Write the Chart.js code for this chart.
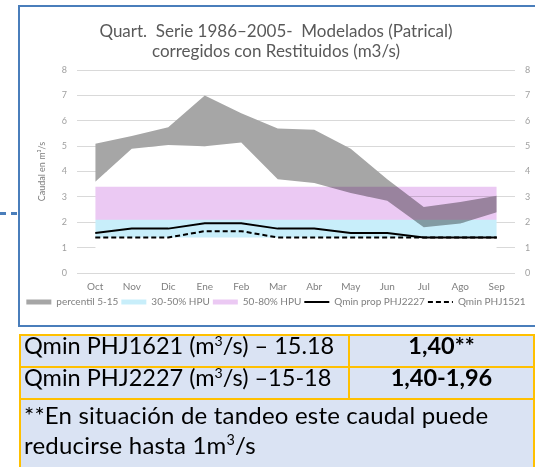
<!DOCTYPE html>
<html>
<head>
<meta charset="utf-8">
<script src="https://cdn.jsdelivr.net/npm/chart.js@4"></script>
<style>
  body { margin: 0; width: 535px; height: 467px; overflow: hidden; background: #fff; position: relative; font-family: Lato, "Open Sans", sans-serif; }
  #chart { position: absolute; left: 0; top: 0; display: block; }
  #frame { position: absolute; left: 18px; top: 5px; width: 560px; height: 322px; border: 2px solid #4a7ebb; box-sizing: border-box; pointer-events: none; }
  #conector { position: absolute; left: 0; top: 212px; width: 17px; border-top: 3px dashed #4a7ebb; }
  table { position: absolute; left: 19px; top: 334px; border-collapse: collapse; font-size: 23.5px; color: #000; }
  td { background: #dae3f3; border: 2.5px solid #ffc000; padding: 0 3px 11px; line-height: 19px; vertical-align: top; white-space: nowrap; }
  td.v { text-align: center; font-weight: bold; width: 185px; }
  td.nota { font-size: 24px; letter-spacing: 0.2px; line-height: 30px; padding-top: 0; height: 70px; }
  sup { font-size: 0.6em; line-height: 0; vertical-align: 0.6em; }
</style>
</head>
<body>
<canvas id="chart" width="535" height="317"></canvas>
<div id="frame"></div>
<div id="conector"></div>
<table>
  <tr><td style="width:322px">Qmin PHJ1621 (m<sup>3</sup>/s) – 15.18</td><td class="v">1,40**</td></tr>
  <tr><td>Qmin PHJ2227 (m<sup>3</sup>/s) –15-18</td><td class="v">1,40-1,96</td></tr>
  <tr><td class="nota" colspan="2">**En situación de tandeo este caudal puede<br>reducirse hasta 1m<sup>3</sup>/s</td></tr>
</table>
<script>
// meses del año hidrológico
const meses = ['Oct', 'Nov', 'Dic', 'Ene', 'Feb', 'Mar', 'Abr', 'May', 'Jun', 'Jul', 'Ago', 'Sep'];

// percentiles 5 y 15 (m3/s)
const percentil15 = [5.1, 5.4, 5.75, 7.0, 6.3, 5.7, 5.65, 4.9, 3.7, 2.6, 2.8, 3.05];
const percentil5 = [3.6, 4.9, 5.05, 5.0, 5.15, 3.7, 3.55, 3.15, 2.85, 1.8, 1.95, 2.4];

// caudales mínimos
const qminProp2227 = [1.58, 1.75, 1.75, 1.96, 1.96, 1.75, 1.75, 1.58, 1.58, 1.4, 1.4, 1.4];
const qmin1521 = [1.4, 1.4, 1.4, 1.65, 1.65, 1.4, 1.4, 1.4, 1.4, 1.4, 1.4, 1.4];

// límites de HPU
const hpu30 = 1.4;
const hpu50 = 2.1;
const hpu80 = 3.4;

const fuente = 'Lato, "Open Sans", sans-serif';
const transparente = 'rgba(0,0,0,0)';

// las bandas HPU se mezclan con el gris (multiplicar)
const mezclaBandas = {
    id: 'mezclaBandas',
    afterDatasetDraw(chart, args) {
        if (args.index === 0) chart.ctx.globalCompositeOperation = 'multiply';
        if (args.index === 2) chart.ctx.globalCompositeOperation = 'source-over';
    }
};

new Chart(document.getElementById('chart'), {
    type: 'line',
    data: {
        labels: meses,
        datasets: [
            { label: 'percentil 5-15', data: percentil15, fill: 5, backgroundColor: '#a6a6a6',
              borderColor: transparente, borderWidth: 0, pointRadius: 0, pointStyle: 'rect', order: 5 },
            { label: '30-50% HPU', data: meses.map(() => hpu50), fill: { value: hpu30 }, backgroundColor: '#c8eefa',
              borderColor: transparente, borderWidth: 0, pointRadius: 0, pointStyle: 'rect', order: 4 },
            { label: '50-80% HPU', data: meses.map(() => hpu80), fill: { value: hpu50 }, backgroundColor: '#ebc9f3',
              borderColor: transparente, borderWidth: 0, pointRadius: 0, pointStyle: 'rect', order: 3 },
            { label: 'Qmin prop PHJ2227', data: qminProp2227, fill: false, borderColor: '#000', backgroundColor: '#000',
              borderWidth: 2, pointRadius: 0, pointStyle: 'line', order: 1 },
            { label: 'Qmin PHJ1521', data: qmin1521, fill: false, borderColor: '#000', backgroundColor: '#000',
              borderWidth: 2, borderDash: [5, 3], pointRadius: 0, pointStyle: 'line', order: 2 },
            { label: '', data: percentil5, fill: 'origin', backgroundColor: '#fff',
              borderColor: transparente, borderWidth: 0, pointRadius: 0, order: 6 }
        ]
    },
    options: {
        responsive: false,
        animation: false,
        layout: { padding: { left: 17, right: 0, top: 0, bottom: 0 } },
        elements: { line: { tension: 0 } },
        scales: {
            x: {
                offset: true,
                grid: { display: false, drawTicks: false, offset: true },
                border: { display: false },
                ticks: { color: '#7f7f7f', font: { family: fuente, size: 10 }, padding: 8 },
                afterFit(s) { s.height = 21; }
            },
            y: {
                position: 'left', min: 0, max: 8,
                ticks: { stepSize: 1, color: '#a0a0a0', font: { family: fuente, size: 9 }, padding: 10 },
                grid: { color: '#d9d9d9', drawTicks: false },
                border: { display: false },
                title: { display: true, text: 'Caudal en m³/s', color: '#7f7f7f', font: { family: fuente, size: 9 },
                         padding: { top: 20, bottom: 4 } },
                afterFit(s) { s.width = 60; }
            },
            y2: {
                position: 'right', min: 0, max: 8,
                ticks: { stepSize: 1, color: '#a0a0a0', font: { family: fuente, size: 9 }, padding: 10 },
                grid: { display: false, drawTicks: false },
                border: { display: false },
                afterFit(s) { s.width = 20; }
            }
        },
        plugins: {
            filler: { drawTime: 'beforeDatasetDraw', propagate: false },
            tooltip: { enabled: false },
            title: {
                display: true,
                text: ['Quart.  Serie 1986–2005-  Modelados (Patrical)', 'corregidos con Restituidos (m3/s)'],
                color: '#595959',
                font: { family: fuente, size: 17, weight: 'normal', lineHeight: 1.15 },
                padding: { top: 22, bottom: 9 }
            },
            legend: {
                position: 'bottom',
                labels: {
                    usePointStyle: true,
                    pointStyleWidth: 25,
                    boxHeight: 5,
                    padding: 3,
                    color: '#7f7f7f',
                    font: { family: fuente, size: 10 },
                    generateLabels(chart) {
                        const items = Chart.defaults.plugins.legend.labels.generateLabels(chart);
                        return items.filter(it => it.text).map(it => {
                            const ds = chart.data.datasets[it.datasetIndex];
                            it.lineDash = ds.borderDash || [];
                            it.lineWidth = ds.borderWidth;
                            it.strokeStyle = ds.borderColor;
                            it.fillStyle = ds.backgroundColor;
                            return it;
                        }).sort((a, b) => a.datasetIndex - b.datasetIndex);
                    }
                }
            }
        }
    },
    plugins: [mezclaBandas]
});
</script>
</body>
</html>
